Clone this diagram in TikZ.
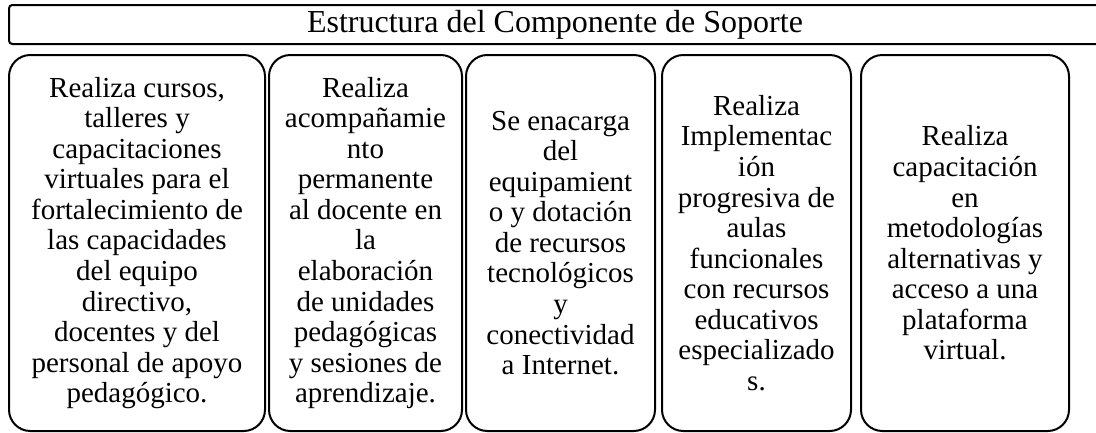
\documentclass[tikz,border=0pt]{standalone}
\usepackage{fontspec}
\setmainfont{Liberation Serif}
\begin{document}
\begin{tikzpicture}[x=0.75pt,y=-0.75pt,
  bar/.style={draw=black,line width=1.5pt,rounded corners=2.5pt,inner sep=0pt,
    minimum height=29.25pt,font=\fontsize{24pt}{28pt}\selectfont},
  card/.style={draw=black,line width=1.5pt,rounded corners=16pt,inner sep=0pt,
    minimum height=282pt,align=center,font=\fontsize{21.75pt}{22.9pt}\selectfont}]
\useasboundingbox (0,0) rectangle (1096,432);
\node[bar,minimum width=819pt] (title) at (555,24.5) {Estructura del Componente de Soporte};
\node[card,minimum width=192pt] (b1) at (137,243) {Realiza cursos,\\talleres y\\capacitaciones\\virtuales para el\\fortalecimiento de\\las capacidades\\del equipo\\directivo,\\docentes y del\\personal de apoyo\\pedagógico.};
\node[card,minimum width=144.75pt] (b2) at (365.5,243) {Realiza\\acompañamie\\nto\\permanente\\al docente en\\la\\elaboración\\de unidades\\pedagógicas\\y sesiones de\\aprendizaje.};
\node[card,minimum width=141.75pt] (b3) at (560.5,243) {Se enacarga\\del\\equipamient\\o y dotación\\de recursos\\tecnológicos\\y\\conectividad\\a Internet.};
\node[card,minimum width=141.75pt] (b4) at (756.5,243) {Realiza\\Implementac\\ión\\progresiva de\\aulas\\funcionales\\con recursos\\educativos\\especializado\\s.};
\node[card,minimum width=156pt] (b5) at (965,243) {Realiza\\capacitación\\en\\metodologías\\alternativas y\\acceso a una\\plataforma\\virtual.};
\end{tikzpicture}
\end{document}
